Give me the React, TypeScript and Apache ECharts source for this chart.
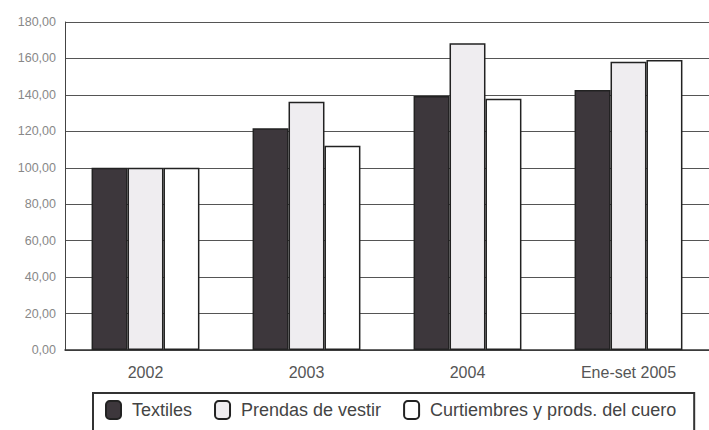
import React, { useEffect, useRef } from "react";
import * as echarts from "echarts";

const categories = ["2002", "2003", "2004", "Ene-set 2005"];
const textiles = [100, 121.7, 139.4, 142.7];
const prendas = [100, 136.3, 168.3, 158.2];
const curtiembres = [100, 112.1, 137.9, 159.2];
const seriesNames = ["Textiles", "Prendas de vestir", "Curtiembres y prods. del cuero"];

export default function App() {
  const ref = useRef<HTMLDivElement>(null);
  useEffect(() => {
    const chart = echarts.init(ref.current!, null, { renderer: "svg" });
    const font = "'Liberation Sans', Arial, sans-serif";
    const border = { borderColor: "#222", borderWidth: 1.5 };
    chart.setOption({
      animation: false,
      backgroundColor: "#fff",
      grid: { left: 65, right: 0, top: 22, bottom: 80 },
      xAxis: {
        type: "category",
        data: categories,
        axisLine: { lineStyle: { color: "#333", width: 1.5 } },
        axisTick: { show: false },
        axisLabel: { color: "#555", fontSize: 16, fontFamily: font, margin: 14 },
      },
      yAxis: {
        type: "value",
        min: 0,
        max: 180,
        interval: 20,
        axisLine: { show: true, lineStyle: { color: "#444", width: 1 } },
        axisTick: { show: false },
        axisLabel: {
          color: "#888",
          fontSize: 12.5,
          fontFamily: font,
          margin: 9,
          formatter: (v: number) => v.toFixed(2).replace(".", ","),
        },
        splitLine: { lineStyle: { color: "#555", width: 1 } },
      },
      legend: {
        left: 93,
        top: 393,
        data: seriesNames,
        icon: "roundRect",
        itemWidth: 15,
        itemHeight: 18,
        itemGap: 22,
        borderColor: "#333",
        borderWidth: 2,
        padding: [7, 18, 14, 12],
        textStyle: { fontSize: 18, color: "#444", fontFamily: font, padding: [0, 0, 0, 6] },
      },
      series: [
        {
          name: seriesNames[0],
          type: "bar",
          data: textiles,
          barCategoryGap: "33%",
          barGap: "0%",
          itemStyle: { color: "#3d373c", ...border },
        },
        {
          name: seriesNames[1],
          type: "bar",
          data: prendas,
          barCategoryGap: "33%",
          barGap: "0%",
          itemStyle: { color: "#efedf0", ...border },
        },
        {
          name: seriesNames[2],
          type: "bar",
          data: curtiembres,
          barCategoryGap: "33%",
          barGap: "0%",
          itemStyle: { color: "#ffffff", ...border },
        },
      ],
    });
    return () => chart.dispose();
  }, []);
  return <div ref={ref} style={{ width: 709, height: 430, position: "absolute", left: 0, top: 0 }} />;
}
